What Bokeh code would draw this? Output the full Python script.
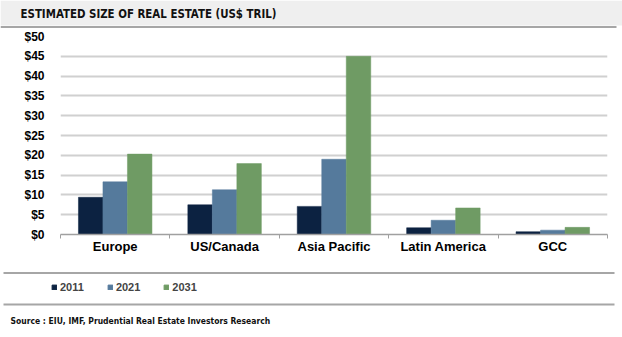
from bokeh.plotting import figure
from bokeh.layouts import column
from bokeh.models import (Range1d, FixedTicker, PrintfTickFormatter, Label,
                          Legend, LegendItem, ColumnDataSource)
from bokeh.embed import file_html
from bokeh.resources import INLINE

categories = ["Europe", "US/Canada", "Asia Pacific", "Latin America", "GCC"]
years = ["2011", "2021", "2031"]
v2011 = [9.4, 7.5, 7.1, 1.7, 0.7]
v2021 = [13.3, 11.3, 19.0, 3.6, 1.1]
v2031 = [20.3, 17.9, 45.0, 6.7, 1.8]
colors = ["#0c2241", "#557a9c", "#6f9b64"]
y_ticks = [0, 5, 10, 15, 20, 25, 30, 35, 40, 45, 50]
title_text = "ESTIMATED SIZE OF REAL ESTATE (US$ TRIL)"
source_text = "Source : EIU, IMF, Prudential Real Estate Investors Research"

W = 622
HH, MH, FH = 28, 234, 75          # header, main, footer heights
FL, FR, FT, FB = 60, 607, 36, 234  # frame edges in page pixels
NARROW = "DejaVu Sans Condensed"


def blank(h, y0):
    f = figure(width=W, height=h, output_backend="svg", toolbar_location=None,
               x_range=Range1d(0, W), y_range=Range1d(y0 + h, y0),
               min_border=0, x_axis_location=None, y_axis_location=None,
               frame_align=False)
    f.grid.grid_line_color = None
    f.outline_line_color = None
    f.background_fill_color = "white"
    f.border_fill_color = "white"
    return f


# ---------- header ----------
hdr = blank(HH, 0)
hdr.quad(left=0, right=W, top=0, bottom=25, fill_color="#efefef", line_color=None)
hdr.quad(left=0, right=W - 6, top=25.5, bottom=27.5, fill_color="#a6a6a6", line_color=None)
hdr.add_layout(Label(x=20, y=13, text=title_text, text_font=NARROW,
                     text_font_style="bold", text_font_size="11.4px",
                     text_color="#111111", text_baseline="middle"))

# ---------- main chart ----------
p = figure(width=W, height=MH, output_backend="svg", toolbar_location=None,
           x_range=Range1d(0, len(categories)), y_range=Range1d(0, 50),
           min_border_left=FL, min_border_right=W - FR,
           min_border_top=FT - HH, min_border_bottom=HH + MH - FB,
           frame_align=False)
p.outline_line_color = None
p.background_fill_color = "white"
p.border_fill_color = "white"

bw = 0.224
series = [v2011, v2021, v2031]
for k, vals in enumerate(series):
    xs = [i + 0.5 + (k - 1) * bw for i in range(len(categories))]
    src = ColumnDataSource(dict(x=xs, top=vals))
    p.vbar(x="x", top="top", bottom=0, width=bw, source=src,
           fill_color=colors[k], line_color=colors[k], line_width=0.5)

p.xaxis.ticker = FixedTicker(ticks=[i + 0.5 for i in range(len(categories))],
                             minor_ticks=list(range(len(categories) + 1)))
p.xaxis.major_label_overrides = {i + 0.5: c for i, c in enumerate(categories)}
p.xaxis.major_tick_line_color = None
p.xaxis.minor_tick_line_color = "#a0a0a0"
p.xaxis.minor_tick_in = 0
p.xaxis.minor_tick_out = 4
p.xaxis.axis_line_color = "#a0a0a0"
p.xaxis.axis_line_width = 1.5
p.xaxis.major_label_text_font = "Liberation Sans"
p.xaxis.major_label_text_font_style = "bold"
p.xaxis.major_label_text_font_size = "13px"
p.xaxis.major_label_text_color = "#000000"
p.xaxis.major_label_standoff = -2

p.yaxis.ticker = FixedTicker(ticks=y_ticks)
p.yaxis.formatter = PrintfTickFormatter(format="$%d")
p.yaxis.axis_line_color = None
p.yaxis.major_tick_line_color = None
p.yaxis.minor_tick_line_color = None
p.yaxis.major_label_text_font = "Liberation Sans"
p.yaxis.major_label_text_font_style = "bold"
p.yaxis.major_label_text_font_size = "12px"
p.yaxis.major_label_text_color = "#000000"
p.yaxis.major_label_standoff = 10

p.xgrid.grid_line_color = None
p.ygrid.grid_line_color = "#d0d0d0"
p.ygrid.grid_line_width = 2

# ---------- footer: legend, separators, source ----------
y0 = HH + MH
ftr = blank(FH, y0)
ftr.quad(left=3, right=W - 8, top=271.5, bottom=273.5, fill_color="#a6a6a6", line_color=None)
ftr.quad(left=3, right=W - 8, top=303, bottom=305, fill_color="#a6a6a6", line_color=None)
nan = float("nan")
proxies = [ftr.vbar(x=[nan], top=[nan], width=1, fill_color=colors[k], line_color=colors[k])
           for k in range(3)]
legend = Legend(items=[LegendItem(label=years[k], renderers=[proxies[k]]) for k in range(3)],
                orientation="horizontal", location=(51, 337 - 293),
                glyph_width=6, glyph_height=6, label_standoff=3, spacing=23,
                padding=0, margin=0, border_line_color=None,
                background_fill_alpha=0,
                label_text_font="Liberation Sans", label_text_font_style="bold",
                label_text_font_size="11px", label_height=12)
ftr.add_layout(legend)
ftr.add_layout(Label(x=10, y=320, text=source_text, text_font=NARROW,
                     text_font_style="bold", text_font_size="8.5px",
                     text_color="#111111", text_baseline="middle"))

layout = column(hdr, p, ftr, spacing=0)
open("out.html", "w").write(file_html(layout, INLINE))
